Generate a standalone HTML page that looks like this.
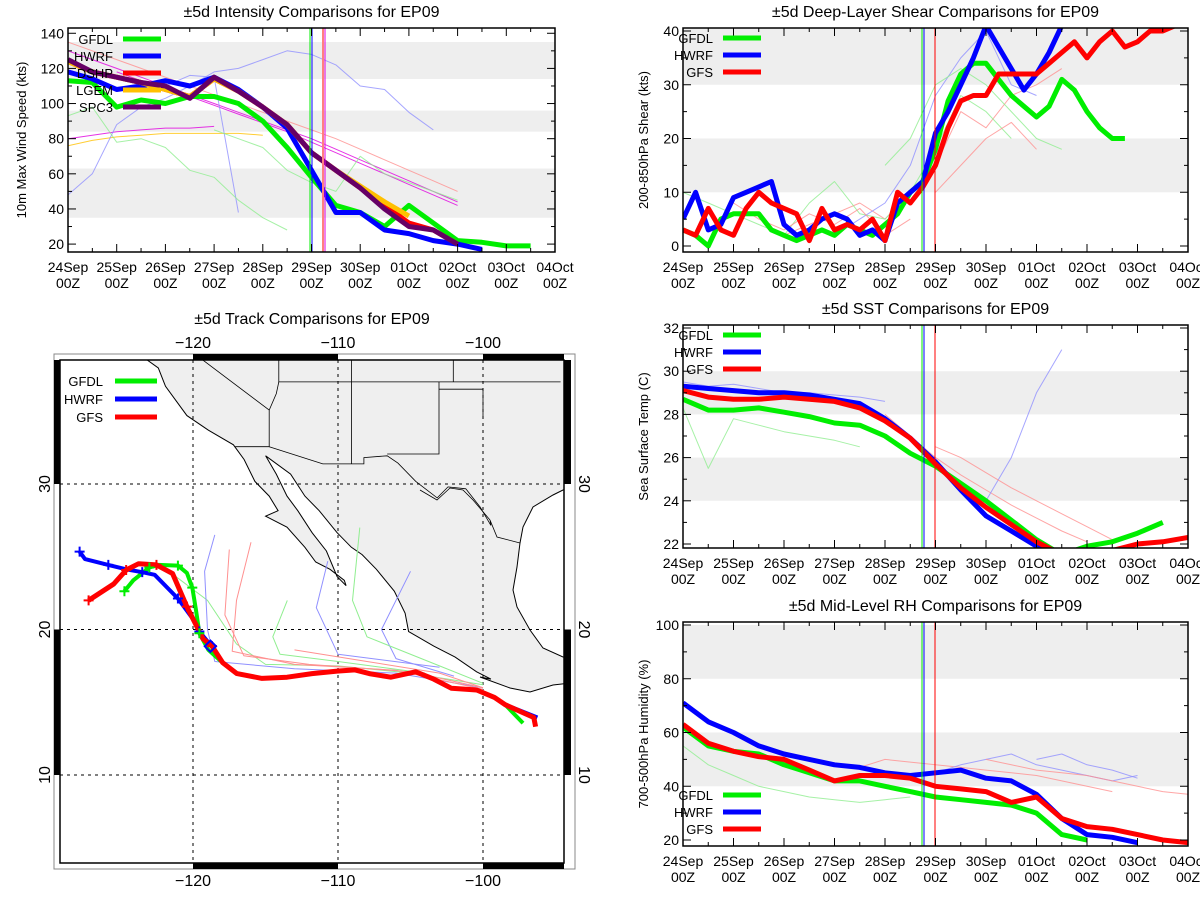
<!DOCTYPE html>
<html><head><meta charset="utf-8">
<style>
body{margin:0;background:#fff}
svg{display:block}
text{font-family:"Liberation Sans",sans-serif;fill:#000}
</style></head><body>
<svg id="s" width="1200" height="900" viewBox="0 0 1200 900"></svg>
<script>
// ---------- DATA ----------
const dayLabels=["24Sep","25Sep","26Sep","27Sep","28Sep","29Sep","30Sep","01Oct","02Oct","03Oct","04Oct"];
// Intensity (12-hourly from 24Sep 00Z)
const intGFDL=[113,112,98,102,100,104,104,100,90,75,58,42,38,30,42,32,22,21,19,19];
const intHWRF=[118,114,108,110,113,110,115,108,98,86,62,38,38,28,26,22,20,17];
const intDSHP=[124,118,115,112,108,104,114,107,98,88,72,62,52,42,32,28,20];
const intLGEM=[124,118,115,112,108,104,114,107,98,88,72,62,53,44,36];
const intSPC3=[125,118,115,112,110,103,115,107,98,88,72,62,52,40,30,28,20];
const intThinStarts=[0,0,0,2,0,0,4,0,6];
const intThinVals=[[80,82,84,85,86,86,87],[76,79,81,82,83,83,83,83,82],[130,125,120,115,110,105,100,95,90,85,80,74,68,62,56,50,44],[118,113,109,104,99,94,89,84,78,72,66,60,54,48,42],[135,130,125,120,115,110,105,100,95,90,85,80,74,68,62,56,50],[48,60,88,98,103,110,118,120,125,130,128,122,110,108,95,85],[110,116,115,38],[93,98,78,80,75,62,58,45,35,28],[85,80,75,62,55,50,70,60,55,50,45]];
const intThinColors=["#e000e0","#ffc000","#e000e0","#e000e0","#ff9090","#9090ff","#9090ff","#90ee90","#90ee90"];
// Shear (6-hourly)
const shrGFDL=[3,2,0,5,6,6,6,3,2,1,2,3,2,4,3,2,4,6,10,12,18,27,32,34,34,31,28,26,24,26,31,29,25,22,20,20];
const shrHWRF=[5,10,3,4,9,10,11,12,4,2,3,5,6,5,2,3,1,8,10,12,21,25,30,35,41,37,33,29,32,36,41,44];
const shrGFS=[3,2,7,3,2,7,10,8,7,6,1,7,3,4,3,5,1,10,8,11,15,22,27,28,28,32,32,32,32,34,36,38,35,38,40,37,38,40,40,41,41];
const shrThinStarts=[4,0,6,8,10,2];
const shrThinVals=[[2,4,6,8,5,10,15,25,22,28,30,33],[10,8,6,4,2,8,12,6,5,10,18,28,25,20],[2,5,8,15,28,35,40,30,28],[15,20,30,33,30,25,20,18],[10,15,20,23,18],[8,5,3,6,4,7,2,5]];
const shrThinColors=["#ff9090","#90ee90","#9090ff","#90ee90","#ff9090","#ff9090"];
// SST (12-hourly)
const sstGFDL=[28.7,28.2,28.2,28.3,28.1,27.9,27.6,27.5,27.0,26.2,25.6,24.8,24.0,23.1,22.2,21.5,21.9,22.1,22.5,23.0];
const sstHWRF=[29.3,29.2,29.1,29.0,29.0,28.9,28.7,28.5,27.8,26.9,25.8,24.5,23.3,22.6,21.9,21.5];
const sstGFS=[29.1,28.8,28.7,28.7,28.8,28.7,28.6,28.3,27.7,26.9,25.7,24.6,23.7,22.9,22.1,21.5,21.2,21.7,22.0,22.1,22.3];
const sstThinStarts=[0,0,8,12,10];
const sstThinVals=[[29.5,29.3,29.4,29.2,29.0,29.0,28.9,28.8,28.6],[28.3,25.5,27.8,27.5,27.2,27.0,26.8,26.5],[28,27,26,25.2,24.5,23.8,23.2,22.6,22.1],[24,26,29,31],[26.5,26,25.3,24.6,24,23.4,22.8,22.2]];
const sstThinColors=["#9090ff","#90ee90","#ff9090","#9090ff","#ff9090"];
// RH (12-hourly)
const rhGFDL=[62,55,53,52,48,45,42,42,40,38,36,35,34,33,30,22,20];
const rhHWRF=[71,64,60,55,52,50,48,47,45,44,45,46,43,42,37,28,22,21,19];
const rhGFS=[63,56,53,51,50,46,42,44,44,43,40,39,38,34,36,28,25,24,22,20,19];
const rhThinStarts=[0,6,10,12,14];
const rhThinVals=[[55,48,44,40,38,36,35,34,35,36],[48,47,50,49,48,47,46,45,44,42,40,38],[45,48,50,52,48,46,44,42,44],[50,48,46,45,44,42,40,38,37],[50,52,48,46,43]];
const rhThinColors=["#90ee90","#ff9090","#9090ff","#ff9090","#9090ff"];
// Tracks (lon, lat)
const tailLon=[-117.95,-116.97,-115.24,-113.51,-111.79,-110.06,-108.83,-107.84,-106.36,-104.64,-103.40,-102.17,-100.44,-99.21,-98.47];
const tailLat=[17.72,16.97,16.64,16.72,16.97,17.14,17.22,16.97,16.72,17.09,16.59,15.96,15.84,15.33,14.83];
const gfsLon=[-127.2,-125.47,-124.61,-123.75,-122.52,-121.41,-120.42,-119.31,-118.69].concat(tailLon,[-96.5,-96.37]);
const gfsLat=[22.0,23.13,24.09,24.52,24.44,23.84,21.57,19.36,18.86].concat(tailLat,[13.95,13.32]);
const hwrfLon=[-127.82,-127.45,-125.84,-124.61,-123.5,-122.64,-121.04,-119.93,-119.56,-118.69].concat(tailLon,[-96.25]);
const hwrfLat=[25.35,24.84,24.44,24.14,23.94,23.76,22.13,20.62,19.86,18.81].concat(tailLat,[13.95]);
const gfdlLon=[-124.73,-124.12,-123.01,-122.39,-121.04,-120.42,-120.05,-119.80,-119.56,-118.94].concat(tailLon,[-97.24]);
const gfdlLat=[22.63,23.38,24.26,24.44,24.39,23.89,22.88,21.37,19.74,18.60].concat(tailLat,[13.57]);
const thinTrkLon=[[-121.8,-119,-117,-115,-110,-105,-100],[-118.5,-119.2,-119,-118.5,-113,-106,-100],[-116,-117,-117.3,-113,-106,-100],[-105,-107,-106,-102],[-108.5,-109,-108,-103,-100],[-113,-108,-103,-100],[-110.7,-111.5,-110,-103],[-117.5,-117.8,-116.5,-112,-105,-100],[-113.5,-114.5,-114,-110,-104]];
const thinTrkLat=[[24.1,22,19,17.6,17.5,17,16.2],[26.5,24,20,17.8,17.3,17,16],[26,22,18.5,17.6,17.2,15.9],[24,20,18,16.8],[27,22,19.5,17.5,16.3],[18.6,17.8,17,16],[24.7,21.5,18.3,17.4],[25.5,21,18.2,17.6,17.1,16],[22,19.5,18.3,17.8,17]];
const thinTrkColors=["#90ee90","#9090ff","#ff9090","#9090ff","#90ee90","#ff9090","#9090ff","#ff9090","#90ee90"];

// ---------- RENDER ----------
const NS="http://www.w3.org/2000/svg";
const svg=document.getElementById('s');
function mk(tag,attrs,parent){const e=document.createElementNS(NS,tag);for(const k in attrs)e.setAttribute(k,attrs[k]);(parent||svg).appendChild(e);return e;}
function txt(x,y,s,size,anchor,parent,rot){const t=mk('text',{x:x,y:y,'font-size':size,'text-anchor':anchor||'middle'},parent);if(rot)t.setAttribute('transform',rot);t.textContent=s;return t;}

function panel(cfg){
  const g=mk('g',{});
  
  
  const L=cfg.x0,R=cfg.x1,T=cfg.y0,B=cfg.y1;
  const xs=(i,per)=>L+(i/(10*per))*(R-L);
  const ys=v=>cfg.yb+(v-cfg.vmin)*(cfg.yt-cfg.yb)/(cfg.vmax-cfg.vmin);
  const cid='clip'+cfg.name;
  const cp=mk('clipPath',{id:cid},g);mk('rect',{x:L,y:T,width:R-L,height:B-T},cp);
  cfg.bands.forEach(b=>{const r=mk('rect',{x:L,y:ys(b[1]),width:R-L,height:ys(b[0])-ys(b[1]),fill:'#eeeeee'},g);
    
    });
  const pg=mk('g',{'clip-path':'url(#'+cid+')'},g);
  function series(start,vals,per,color,w,name,op){
    let d='';vals.forEach((v,k)=>{d+=(k?'L':'M')+xs(start+k,per).toFixed(1)+','+ys(v).toFixed(1);});
    const p=mk('path',{d:d,fill:'none',stroke:color,'stroke-width':w,'stroke-linejoin':'round','stroke-opacity':op||1},pg);
    
    
  }
  cfg.thinVals.forEach((v,k)=>series(cfg.thinStarts[k],v,2,cfg.thinColors[k],1,'ensemble-line',0.8));
  cfg.main.forEach(m=>series(0,m.v,cfg.per,m.c,5,m.n+'-line'));
  cfg.vlines.forEach(vl=>{const l=mk('line',{x1:vl[0],x2:vl[0],y1:T,y2:B,stroke:vl[1],'stroke-width':vl[2]||1},g);
    
    });
  const fr=mk('rect',{x:L,y:T,width:R-L,height:B-T,fill:'none',stroke:'#000','stroke-width':1.5},g);
  
  
  for(let d=0;d<=10;d++){const x=L+d*(R-L)/10;
    mk('line',{x1:x,x2:x,y1:B,y2:B-8,stroke:'#000'},g);mk('line',{x1:x,x2:x,y1:T,y2:T+8,stroke:'#000'},g);
    if(d<10){const xm=x+(R-L)/20;mk('line',{x1:xm,x2:xm,y1:B,y2:B-4,stroke:'#000'},g);mk('line',{x1:xm,x2:xm,y1:T,y2:T+4,stroke:'#000'},g);}
    const t1=txt(x,B+20,dayLabels[d],14,'middle',g);
    
    
    txt(x,B+36,'00Z',14,'middle',g);}
  for(let v=Math.ceil(cfg.vmin/cfg.minor)*cfg.minor;v<=cfg.vmax;v+=cfg.minor){const y=ys(v);if(y<T-0.5||y>B+0.5)continue;
    const major=Math.abs((v-cfg.tick0)%cfg.step)<1e-6;
    mk('line',{x1:L,x2:L+(major?8:4),y1:y,y2:y,stroke:'#000'},g);mk('line',{x1:R,x2:R-(major?8:4),y1:y,y2:y,stroke:'#000'},g);
    if(major){const t=txt(L-4,y+5,String(v),14,'end',g);
      
      }}
  const tt=txt((L+R)/2,T-11,cfg.title,16,'middle',g);
  
  
  const ya=txt(0,0,cfg.ylabel,13,'middle',g,'translate('+cfg.ylx+','+(T+B)/2+') rotate(-90)');
  
  
  const lg=mk('g',{},g);
  
  
  cfg.main.forEach((m,k)=>{const y=cfg.legY+k*cfg.legDy;
    mk('line',{x1:cfg.legX+50,x2:cfg.legX+88,y1:y,y2:y,stroke:m.c,'stroke-width':5},lg);
    const t=txt(cfg.legX+40,y+5,m.n,13,'end',lg);
    
    });
}
const G='#00ee00',Bc='#0000ff',Rc='#ff0000';
panel({name:'intensity-chart',x0:68,x1:555,y0:28,y1:252,vmin:15.5,vmax:143,yb:252,yt:28,tick0:20,step:20,minor:10,per:2,
  bands:[[35,63],[84,96],[114,135]],title:'±5d Intensity Comparisons for EP09',ylabel:'10m Max Wind Speed (kts)',ylx:26,
  main:[{n:'GFDL',c:G,v:intGFDL},{n:'HWRF',c:Bc,v:intHWRF},{n:'DSHP',c:Rc,v:intDSHP},{n:'LGEM',c:'#ffc000',v:intLGEM},{n:'SPC3',c:'#660066',v:intSPC3}],
  thinStarts:intThinStarts,thinVals:intThinVals,thinColors:intThinColors,vlines:[[310,G],[312,Bc],[323,'#ff8080',2],[325,'#e000e0']],legX:73,legY:39,legDy:17});
panel({name:'shear-chart',x0:683,x1:1188,y0:28,y1:252,vmin:0,vmax:40,yb:246,yt:31,tick0:0,step:10,minor:5,per:4,
  bands:[[10,20],[30,40.6]],title:'±5d Deep-Layer Shear Comparisons for EP09',ylabel:'200-850hPa Shear (kts)',ylx:648,
  main:[{n:'GFDL',c:G,v:shrGFDL},{n:'HWRF',c:Bc,v:shrHWRF},{n:'GFS',c:Rc,v:shrGFS}],
  thinStarts:shrThinStarts,thinVals:shrThinVals,thinColors:shrThinColors,vlines:[[922,G],[924,Bc],[935,Rc]],legX:673,legY:38,legDy:17});
panel({name:'sst-chart',x0:683,x1:1188,y0:325,y1:548,vmin:22,vmax:32,yb:544,yt:328,tick0:22,step:2,minor:1,per:2,
  bands:[[24,26],[28,30]],title:'±5d SST Comparisons for EP09',ylabel:'Sea Surface Temp (C)',ylx:648,
  main:[{n:'GFDL',c:G,v:sstGFDL},{n:'HWRF',c:Bc,v:sstHWRF},{n:'GFS',c:Rc,v:sstGFS}],
  thinStarts:sstThinStarts,thinVals:sstThinVals,thinColors:sstThinColors,vlines:[[922,G],[924,Bc],[935,Rc]],legX:673,legY:335,legDy:17});
panel({name:'rh-chart',x0:683,x1:1188,y0:622,y1:846,vmin:20,vmax:100,yb:840,yt:625,tick0:20,step:20,minor:10,per:2,
  bands:[[40,60],[80,100]],title:'±5d Mid-Level RH Comparisons for EP09',ylabel:'700-500hPa Humidity (%)',ylx:648,
  main:[{n:'GFDL',c:G,v:rhGFDL},{n:'HWRF',c:Bc,v:rhHWRF},{n:'GFS',c:Rc,v:rhGFS}],
  thinStarts:rhThinStarts,thinVals:rhThinVals,thinColors:rhThinColors,vlines:[[922,G],[924,Bc],[935,Rc]],legX:673,legY:795,legDy:17});

// ---------- TRACK MAP ----------
const mg=mk('g',{});


const ML=60,MR=564,MT=360,MB=863;
const lx=lon=>193+(lon+120)*14.5, ly=lat=>484+(30-lat)*14.55;
const zX=z=>193+(z-427)*0.3576, zY=z=>484+(z-427)*0.366;
const mt=txt((ML+MR)/2,324,'±5d Track Comparisons for EP09',16,'middle',mg);


const mcp=mk('clipPath',{id:'mclip'},mg);mk('rect',{x:ML,y:MT,width:MR-ML,height:MB-MT},mcp);
const mp=mk('g',{'clip-path':'url(#mclip)'},mg);
const landZ=[[290,70],[290,82],[330,110],[350,160],[380,200],[410,240],[470,280],[540,320],[570,360],[600,420],[640,460],[665,500],[630,515],[690,545],[740,600],[770,640],[810,660],[850,690],[855,705],[830,680],[800,610],[760,560],[720,500],[690,460],[660,400],[630,350],[700,400],[740,460],[780,500],[830,560],[870,600],[900,620],[940,660],[990,720],[1020,780],[1030,830],[1100,870],[1160,900],[1220,940],[1260,960]];
const landPx=landZ.map(p=>[zX(p[0]),zY(p[1])]).concat([[480,677],[510,688],[530,692],[553,685],[570,683],[570,657],[563,657],[543,648],[530,630],[517,607],[513,590],[517,567],[520,543],[523,527],[533,507],[553,495],[563,490],[570,488],[570,345]]);
const lp=mk('path',{d:'M'+landPx.map(p=>p[0].toFixed(1)+','+p[1].toFixed(1)).join('L')+'Z',fill:'#efefef',stroke:'#000','stroke-width':1},mp);


const bordersZ=[[[450,85],[640,225],[640,325],[545,325]],[[640,325],[790,372],[905,372],[905,355],[970,350],[1000,370],[1050,420],[1110,465],[1140,435],[1190,440],[1230,490],[1260,540]],[[667,82],[667,148],[1455,148]],[[870,82],[870,372]],[[1115,148],[1115,345],[970,345]],[[1115,168],[1238,168],[1238,245]],[[1155,82],[1155,148]],[[640,225],[660,180],[667,148]]];
const bordersPx=bordersZ.map(b=>b.map(q=>[zX(q[0]),zY(q[1])]));
bordersPx.push([[zX(1260),zY(540)],[490,520],[497,537],[520,543]]);
bordersPx.push([[420,490],[437,500],[450,488],[463,490],[473,500],[490,520]]);
bordersPx.forEach(b=>{const p=mk('path',{d:'M'+b.map(q=>q[0].toFixed(1)+','+q[1].toFixed(1)).join('L'),fill:'none',stroke:'#000','stroke-width':0.8},mp);
  
  });
[-120,-110,-100].forEach(lon=>mk('line',{x1:lx(lon),x2:lx(lon),y1:MT,y2:MB,stroke:'#000','stroke-dasharray':'3,4','stroke-width':1},mp));
[30,20,10].forEach(lat=>mk('line',{x1:ML,x2:MR,y1:ly(lat),y2:ly(lat),stroke:'#000','stroke-dasharray':'3,4','stroke-width':1},mp));
function trk(lons,lats,color,w,name){
  const p=mk('path',{d:'M'+lons.map((lo,k)=>lx(lo).toFixed(1)+','+ly(lats[k]).toFixed(1)).join('L'),fill:'none',stroke:color,'stroke-width':w,'stroke-linejoin':'round'},mp);
  
  
}
thinTrkLon.forEach((l,k)=>trk(l,thinTrkLat[k],thinTrkColors[k],1,'ensemble-track'));
trk(gfdlLon,gfdlLat,G,4,'gfdl-track');
trk(hwrfLon,hwrfLat,Bc,4,'hwrf-track');
trk(gfsLon,gfsLat,Rc,5,'gfs-track');
[[gfsLon,gfsLat,Rc],[hwrfLon,hwrfLat,Bc],[gfdlLon,gfdlLat,G]].forEach(t=>{for(let k=0;k<9;k+=2){const x=lx(t[0][k]),y=ly(t[1][k]);
  mk('path',{d:`M${x-5},${y}h10M${x},${y-5}v10`,stroke:t[2],'stroke-width':2},mp);}});
mk('rect',{x:lx(-118.8)-4,y:ly(18.85)-4,width:8,height:8,fill:'none',stroke:Bc,'stroke-width':2,transform:`rotate(45 ${lx(-118.8)} ${ly(18.85)})`},mp);
mk('rect',{x:54,y:354,width:521,height:515,fill:'none',stroke:'#888','stroke-width':1},mg);
mk('rect',{x:ML,y:MT,width:MR-ML,height:MB-MT,fill:'none',stroke:'#000','stroke-width':1.5},mg);
[[lx(-120),lx(-110)],[lx(-100),MR]].forEach(s=>{mk('rect',{x:s[0],y:354,width:s[1]-s[0],height:6,fill:'#000'},mg);mk('rect',{x:s[0],y:MB,width:s[1]-s[0],height:6,fill:'#000'},mg);});
[[MT,ly(30)],[ly(20),ly(10)]].forEach(s=>{mk('rect',{x:54,y:s[0],width:6,height:s[1]-s[0],fill:'#000'},mg);mk('rect',{x:MR,y:s[0],width:7,height:s[1]-s[0],fill:'#000'},mg);});
[-120,-110,-100].forEach(lon=>{const a=txt(lx(lon),348,'−'+(-lon),16,'middle',mg);
  
  
  txt(lx(lon),886,'−'+(-lon),16,'middle',mg);});
[30,20,10].forEach(lat=>{const a=txt(0,0,String(lat),16,'middle',mg,`translate(50,${ly(lat)}) rotate(-90)`);
  
  
  txt(0,0,String(lat),16,'middle',mg,`translate(579,${ly(lat)}) rotate(90)`);});
[['GFDL',G,381],['HWRF',Bc,399],['GFS',Rc,417]].forEach(e=>{
  mk('line',{x1:115,x2:157,y1:e[2],y2:e[2],stroke:e[1],'stroke-width':5},mg);
  const t=txt(103,e[2]+5,e[0],13,'end',mg);
  
  });
</script>
</body></html>
